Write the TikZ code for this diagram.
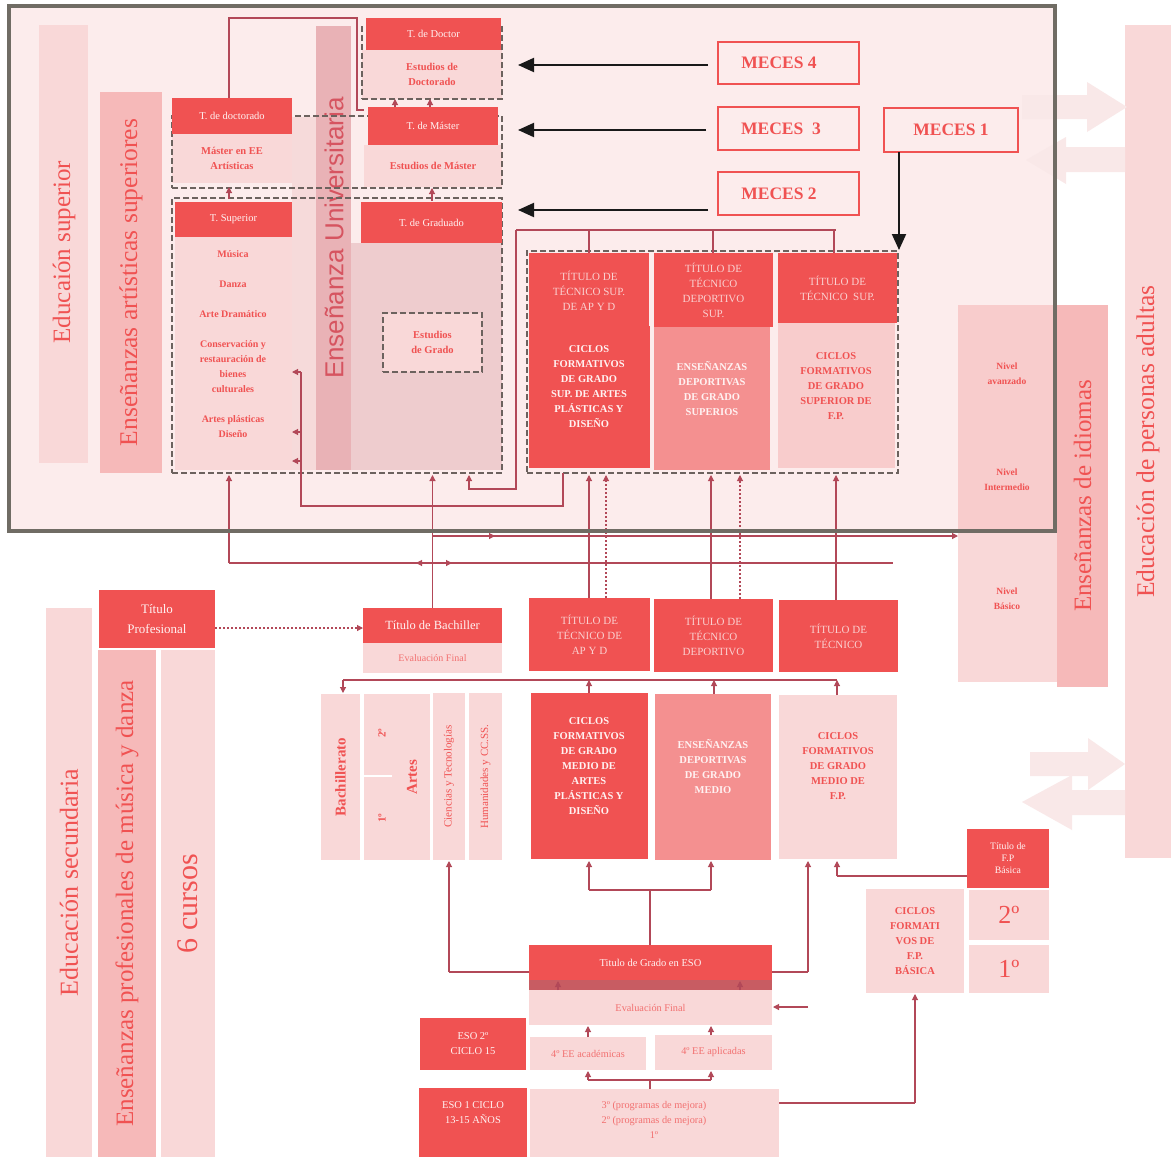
\documentclass[tikz,border=0pt]{standalone}
\usepackage{fontspec}
\setmainfont{Liberation Serif}
\newfontfamily\univfont{Liberation Sans}
\usetikzlibrary{arrows.meta}
\definecolor{DR}{RGB}{240,82,82}
\definecolor{MR}{RGB}{244,144,144}
\definecolor{LP}{RGB}{249,216,216}
\definecolor{BP}{RGB}{246,185,185}
\definecolor{FB}{RGB}{252,236,236}
\definecolor{UB}{RGB}{233,178,182}
\definecolor{UA}{RGB}{238,204,206}
\definecolor{UL}{RGB}{246,218,218}
\definecolor{LC}{RGB}{178,72,88}
\definecolor{DG}{RGB}{108,98,94}
\definecolor{FG}{RGB}{112,108,100}
\definecolor{TW}{RGB}{255,242,242}
\definecolor{TL}{RGB}{250,208,208}
\definecolor{IP}{RGB}{248,204,204}
\definecolor{FA}{RGB}{249,232,232}
\definecolor{UT}{RGB}{214,84,96}
\definecolor{SR}{RGB}{200,92,98}
\definecolor{ER}{RGB}{242,112,112}
\newcommand\fsz[2]{\fontsize{#1}{#2}\selectfont}
\newcommand\mkbox[7]{%
  \pgfmathsetmacro\mkbw{#5-#3}%
  \pgfmathsetmacro\mkbh{#6-#4}%
  \pgfmathsetmacro\mkcx{(#3+#5)/2}%
  \pgfmathsetmacro\mkcy{(#4+#6)/2}%
  \node[bx,#1,minimum width=\mkbw pt,minimum height=\mkbh pt] (#2) at (\mkcx,\mkcy) {#7};}
\newcommand\mkvbox[7]{%
  \pgfmathsetmacro\mkbw{#5-#3}%
  \pgfmathsetmacro\mkbh{#6-#4}%
  \pgfmathsetmacro\mkcx{(#3+#5)/2}%
  \pgfmathsetmacro\mkcy{(#4+#6)/2}%
  \node[bx,#1,rotate=90,minimum width=\mkbh pt,minimum height=\mkbw pt] (#2) at (\mkcx,\mkcy) {#7};}
\begin{document}
\begin{tikzpicture}[x=1pt,y=-1pt,
  bx/.style={rectangle,inner sep=0pt,outer sep=0pt,align=center},
  dr/.style={fill=DR,text=TW},
  lp/.style={fill=LP,text=DR},
  txt/.style={inner sep=0pt,align=center},
  conn/.style={draw=LC,line width=1.1pt},
  arr/.style={conn,-{Triangle[length=6pt,width=6pt]}},
  darr/.style={arr,dash pattern=on 2pt off 2pt},
  marr/.style={draw=black!90,line width=2pt,-{Triangle[length=16pt,width=14pt]}},
  dbox/.style={draw=DG,line width=1.8pt,dash pattern=on 6pt off 3pt},
  meces/.style={draw=DR,line width=2pt},
  mtxt/.style={txt,text=DR,font=\bfseries\fsz{17.5}{20}}]
\fill[white] (0,0) rectangle (1171,1157);
\useasboundingbox (0,0) rectangle (1171,1157);

% right: adult education band
\mkvbox{fill=LP,text=DR,font=\fsz{25.5}{28}}{adultas}{1125}{25}{1171}{858}{Educación de personas adultas}

% frame background
\mkbox{fill=FB}{frame}{9}{6}{1055}{531}{}

% faint big arrows
\fill[FA] (1022,95) -- (1087,95) -- (1087,82) -- (1127,107) -- (1087,132) -- (1087,119) -- (1022,119) -- cycle;
\fill[FA] (1125,147) -- (1066,147) -- (1066,137) -- (1026,160) -- (1066,184) -- (1066,172) -- (1125,172) -- cycle;
\fill[FA] (1030,752) -- (1088,752) -- (1088,738) -- (1125,764) -- (1088,790) -- (1088,776) -- (1030,776) -- cycle;
\fill[FA] (1125,790) -- (1072,790) -- (1072,775) -- (1022,802) -- (1072,830) -- (1072,815) -- (1125,815) -- cycle;

% left bands (upper)
\mkvbox{fill=LP,text=DR,font=\fsz{25}{28}}{edsup}{39}{25}{88}{463}{}
\node[txt,rotate=90,text=DR,font=\fsz{25}{28}] (edsupt) at (64,252) {Educaión superior};
\mkvbox{fill=BP,text=DR,font=\fsz{25.5}{28}}{artsup}{100}{92}{162}{473}{Enseñanzas artísticas superiores}

% university area
\mkbox{fill=UL}{ulstrip}{292}{117}{316}{470}{}
\mkvbox{fill=UB}{univ}{316}{26}{351}{470}{}
\node[txt,rotate=90,text=UT,font=\univfont\fsz{26}{28}] (univt) at (334,238) {Enseñanza Universitaria};
\mkbox{fill=UA}{uarea}{351}{243}{502}{470}{}

% idiomas
\mkbox{fill=LP}{idbox}{958}{305}{1057}{682}{}
\mkbox{fill=IP}{idboxin}{958}{305}{1055}{531}{}
\node[txt,text=DR,font=\bfseries\fsz{9.5}{15}] (nav) at (1007,373.5) {Nivel\\avanzado};
\node[txt,text=DR,font=\bfseries\fsz{9.5}{15}] (nint) at (1007,479.5) {Nivel\\Intermedio};
\node[txt,text=DR,font=\bfseries\fsz{9.5}{15}] (nbas) at (1007,599) {Nivel\\Básico};
\mkvbox{fill=BP,text=DR,font=\fsz{25}{28}}{idband}{1057}{305}{1108}{687}{Enseñanzas de idiomas}

% light bodies (upper)
\mkbox{lp,font=\bfseries\fsz{10.5}{15}}{mee}{172}{134}{292}{183}{Máster en EE\\Artísticas}
\mkbox{lp}{supbody}{175}{237}{292}{470}{}
\node[txt,text=DR,font=\bfseries\fsz{10}{15}] (musica) at (233,254) {Música};
\node[txt,text=DR,font=\bfseries\fsz{10}{15}] (danza) at (233,284) {Danza};
\node[txt,text=DR,font=\bfseries\fsz{10}{15}] (adram) at (233,314) {Arte Dramático};
\node[txt,text=DR,font=\bfseries\fsz{10}{15}] (conserv) at (233,366.5) {Conservación y\\restauración de\\bienes\\culturales};
\node[txt,text=DR,font=\bfseries\fsz{10}{15}] (aplast) at (233,426.5) {Artes plásticas\\Diseño};
\mkbox{lp,font=\bfseries\fsz{10.5}{15}}{estdoc}{362}{50}{502}{99}{Estudios de\\Doctorado}
\mkbox{lp,font=\bfseries\fsz{10.5}{15}}{estmas}{364}{145}{502}{187}{Estudios de Máster}
\mkbox{lp,dbox,font=\bfseries\fsz{10.5}{15}}{estgrado}{383}{313}{482}{372}{Estudios\\de Grado}

% vocational superior bodies
\mkbox{dr}{vb1}{529}{326}{650}{468}{}
\node[txt,text=TW,font=\bfseries\fsz{10.5}{15}] (vb1t) at (589,386.5) {CICLOS\\FORMATIVOS\\DE GRADO\\SUP. DE ARTES\\PLÁSTICAS Y\\DISEÑO};
\mkbox{fill=MR}{vb2}{654}{327}{770}{470}{}
\node[txt,text=TW,font=\bfseries\fsz{10.5}{15}] (vb2t) at (712,388.5) {ENSEÑANZAS\\DEPORTIVAS\\DE GRADO\\SUPERIOS};
\mkbox{fill=IP}{vb3}{778}{323}{895}{468}{}
\node[txt,text=DR,font=\bfseries\fsz{10.5}{15}] (vb3t) at (836,386) {CICLOS\\FORMATIVOS\\DE GRADO\\SUPERIOR DE\\F.P.};

% dashed groups
\mkbox{dbox}{g1}{362}{27}{502}{99}{}
\mkbox{dbox}{g2}{172}{116}{502}{188}{}
\mkbox{dbox}{g3}{172}{198}{502}{473}{}
\mkbox{dbox}{g4}{527}{251}{898}{473}{}

% dark headers (upper)
\mkbox{dr,font=\fsz{10.5}{12}}{tdoct}{172}{98}{292}{134}{T. de doctorado}
\mkbox{dr,font=\fsz{10.5}{12}}{tsup}{175}{202}{292}{237}{T. Superior}
\mkbox{dr,font=\fsz{10.5}{12}}{tdoctor}{366}{18}{501}{50}{T. de Doctor}
\mkbox{dr,font=\fsz{10.5}{12}}{tmaster}{368}{107}{498}{145}{T. de Máster}
\mkbox{dr,font=\fsz{10.5}{12}}{tgrad}{361}{202}{502}{243}{T. de Graduado}
\mkbox{dr,text=TL,font=\fsz{11}{15}}{vt1}{529}{253}{649}{328}{TÍTULO DE\\TÉCNICO SUP.\\DE AP Y D}
\mkbox{dr,text=TL,font=\fsz{11}{15}}{vt2}{654}{253}{773}{327}{TÍTULO DE\\TÉCNICO\\DEPORTIVO\\SUP.}
\mkbox{dr,text=TL,font=\fsz{11}{15}}{vt3}{778}{253}{897}{323}{TÍTULO DE\\TÉCNICO\ \ SUP.}

% MECES
\mkbox{meces}{m4}{718}{42}{859}{84}{}
\node[mtxt] (m4t) at (779,63) {MECES 4};
\mkbox{meces}{m3}{718}{107}{859}{150}{}
\node[mtxt] (m3t) at (781,128.5) {MECES\ \ 3};
\mkbox{meces}{m2}{718}{172}{859}{215}{}
\node[mtxt] (m2t) at (779,193.5) {MECES 2};
\mkbox{meces}{m1}{884}{108}{1018}{152}{}
\node[mtxt] (m1t) at (951,130) {MECES 1};

% lower-left bands
\mkvbox{fill=LP,text=DR,font=\fsz{26}{30}}{edsec}{46}{608}{92}{1157}{Educación secundaria}
\mkvbox{fill=BP,text=DR,font=\fsz{25}{28}}{epmd}{98}{650}{156}{1157}{Enseñanzas profesionales de música y danza}
\mkvbox{fill=LP,text=DR,font=\fsz{30}{32}}{seis}{161}{650}{215}{1157}{6 cursos}

% middle section
\mkbox{dr,font=\fsz{13}{20}}{tprof}{99}{590}{215}{648}{Título\\Profesional}
\mkbox{dr,font=\fsz{12.5}{14}}{tbach}{363}{608}{502}{643}{Título de Bachiller}
\mkbox{fill=LP,text=ER,font=\fsz{10}{12}}{evbach}{363}{643}{502}{673}{Evaluación Final}
\mkvbox{lp,font=\bfseries\fsz{15}{16}}{bachi}{321}{694}{360}{860}{Bachillerato}
\mkbox{lp}{artes}{364}{694}{430}{860}{}
\draw[white,line width=2pt] (364,776) -- (392,776);
\node[txt,rotate=90,text=DR,font=\bfseries\fsz{15}{16}] (artesl) at (412,777) {Artes};
\node[txt,rotate=90,text=DR,font=\bfseries\fsz{11}{12}] (seg2) at (382,733) {2º};
\node[txt,rotate=90,text=DR,font=\bfseries\fsz{11}{12}] (seg1) at (382,818) {1º};
\mkvbox{lp,font=\fsz{11}{12}}{cyt}{433}{693}{465}{860}{Ciencias y Tecnologías}
\mkvbox{lp,font=\fsz{11}{12}}{hum}{469}{693}{502}{860}{Humanidades y CC.SS.}

\mkbox{dr,text=TL,font=\fsz{11}{15}}{tm1}{529}{598}{650}{671}{TÍTULO DE\\TÉCNICO DE\\AP Y D}
\mkbox{dr,text=TL,font=\fsz{11}{15}}{tm2}{654}{599}{773}{672}{TÍTULO DE\\TÉCNICO\\DEPORTIVO}
\mkbox{dr,text=TL,font=\fsz{11}{15}}{tm3}{779}{600}{898}{672}{TÍTULO DE\\TÉCNICO}
\mkbox{dr}{cm1}{531}{693}{648}{859}{}
\node[txt,text=TW,font=\bfseries\fsz{10.5}{15}] (cm1t) at (589,766) {CICLOS\\FORMATIVOS\\DE GRADO\\MEDIO DE\\ARTES\\PLÁSTICAS Y\\DISEÑO};
\mkbox{fill=MR}{cm2}{655}{694}{771}{860}{}
\node[txt,text=TW,font=\bfseries\fsz{10.5}{15}] (cm2t) at (713,767) {ENSEÑANZAS\\DEPORTIVAS\\DE GRADO\\MEDIO};
\mkbox{lp}{cm3}{779}{695}{897}{859}{}
\node[txt,text=DR,font=\bfseries\fsz{10.5}{15}] (cm3t) at (838,766.5) {CICLOS\\FORMATIVOS\\DE GRADO\\MEDIO DE\\F.P.};

% FP basica
\mkbox{dr,font=\fsz{9.8}{12}}{tfpb}{967}{829}{1049}{888}{Título de\\F.P\\Básica}
\mkbox{lp,font=\fsz{26}{28}}{fp2}{969}{890}{1049}{940}{2º}
\mkbox{lp,font=\fsz{26}{28}}{fp1}{969}{945}{1049}{993}{1º}
\mkbox{lp,font=\bfseries\fsz{10.5}{15}}{cfb}{866}{889}{964}{993}{CICLOS\\FORMATI\\VOS DE\\F.P.\\BÁSICA}

% ESO
\mkbox{dr,font=\fsz{10.5}{12}}{teso}{529}{945}{772}{980}{Titulo de Grado en ESO}
\mkbox{fill=SR}{strip}{529}{980}{772}{990}{}
\mkbox{fill=LP,text=ER,font=\fsz{10.3}{12}}{eveso}{529}{990}{772}{1025}{Evaluación Final}
\mkbox{dr,font=\fsz{10.5}{15}}{eso2}{420}{1018}{526}{1070}{ESO 2º\\CICLO 15}
\mkbox{fill=LP,text=ER,font=\fsz{10.3}{12}}{aca}{530}{1037}{646}{1070}{4º EE académicas}
\mkbox{fill=LP,text=ER,font=\fsz{10.3}{12}}{apl}{655}{1035}{772}{1070}{4º EE aplicadas}
\mkbox{dr}{eso1}{419}{1088}{527}{1157}{}
\node[txt,text=TW,font=\fsz{10.5}{15}] (eso1t) at (473,1112.5) {ESO 1 CICLO\\13-15 AÑOS};
\mkbox{fill=LP,text=ER}{prog}{530}{1089}{779}{1157}{}
\node[txt,text=ER,font=\fsz{10.3}{15}] (progt) at (654,1120) {3º (programas de mejora)\\2º (programas de mejora)\\1º};

% ---------- connectors ----------
\draw[conn] (229,98) -- (229,18) -- (357,18) -- (357,110) -- (364,110);
\draw[arr] (229,199) -- (229,187);
\draw[arr] (395,107) -- (395,99);
\draw[arr] (430,107) -- (430,99);
\draw[arr] (432,201) -- (432,188);

\draw[conn] (229,563) -- (893,563);
\draw[arr] (229,563) -- (229,475);
\draw[arr] (434,563) -- (416,563);
\draw[arr] (434,563) -- (452,563);
\draw[arr] (tbach.north) -- (432.5,475);
\draw[arr] (432,536) -- (958,536);
\draw[arr] (470,536) -- (495,536);
\draw[conn] (563,473) -- (563,506) -- (301,506) -- (301,372);
\draw[arr] (301,372) -- (292,372);
\draw[arr] (301,432) -- (292,432);
\draw[arr] (301,461) -- (292,461);
\draw[conn] (516,230) -- (836,230);
\draw[conn] (589,230) -- (589,253);
\draw[conn] (713,230) -- (713,253);
\draw[conn] (834,230) -- (834,253);
\draw[arr] (516,230) -- (516,489) -- (469,489) -- (469,475);

\draw[arr] (589,598) -- (589,475);
\draw[darr] (606,598) -- (606,475);
\draw[arr] (711,599) -- (711,475);
\draw[darr] (740,599) -- (740,475);
\draw[arr] (836,600) -- (836,475);

\draw[marr] (708,65) -- (518,65);
\draw[marr] (706,130) -- (518,130);
\draw[marr] (708,210) -- (518,210);
\draw[marr] (899,152) -- (899,250);

\draw[darr] (tprof.east |- 0,628) -- (tbach.west |- 0,628);
\draw[conn] (343,680) -- (837,680);
\draw[arr] (343,680) -- (343,693);
\draw[arr] (589,693) -- (589,680);
\draw[arr] (714,694) -- (714,680);
\draw[arr] (837,695) -- (837,680);

\draw[conn] (529,972) -- (449,972);
\draw[arr] (449,972) -- (449,861);
\draw[conn] (772,972) -- (808,972);
\draw[arr] (808,972) -- (808,861);
\draw[conn] (650,945) -- (650,890);
\draw[conn] (589,890) -- (711,890);
\draw[arr] (589,890) -- (589,861);
\draw[arr] (711,890) -- (711,861);
\draw[conn] (967,876) -- (837,876);
\draw[arr] (837,876) -- (837,861);
\draw[conn] (779,1103) -- (915,1103);
\draw[arr] (915,1103) -- (915,994);
\draw[arr] (808,1007) -- (773,1007);
\draw[arr] (588,1037) -- (588,1026);
\draw[arr] (711,1035) -- (711,1026);
\draw[conn] (650,1089) -- (650,1080);
\draw[conn] (588,1080) -- (711,1080);
\draw[arr] (588,1080) -- (588,1071);
\draw[arr] (711,1080) -- (711,1071);
\draw[arr] (558,990) -- (558,981);
\draw[arr] (740,990) -- (740,981);

% frame border
\draw[FG,line width=4pt] (frame.north west) rectangle (frame.south east);
\end{tikzpicture}
\end{document}
